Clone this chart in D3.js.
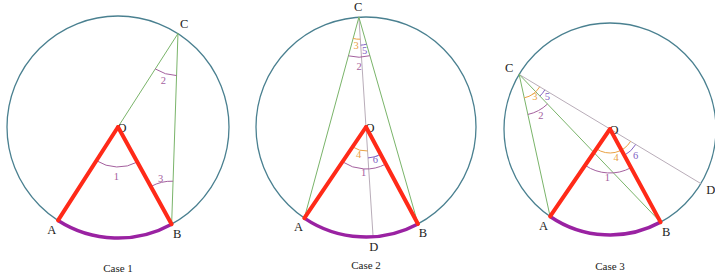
<!DOCTYPE html>
<html><head><meta charset="utf-8">
<script src="https://cdn.jsdelivr.net/npm/d3@7"></script>
<style>
html,body{margin:0;padding:0;background:#fff;}
svg{display:block;}
</style></head>
<body>
<svg id="chart" width="715" height="279"></svg>
<script>
// ---------- data ----------
const caseNames = ["Case 1", "Case 2", "Case 3"];
// positions of points on each circle, as angle in degrees (screen coords, 0 = right, 90 = down)
const angleA = [122.7, 124.1, 124.4];
const angleB = [61.1, 61.8, 61.5];
const angleC = [-57.3, -93.7, -149.0];
const hasD   = [false, true, true];
// angle marks: [vertex, ray1, ray2, label, colourKey]
const marks1 = [["O","A","B","1","pink"],["C","O","B","2","pink"],["B","O","C","3","pink"]];
const marks2 = [["C","A","O","3","orange"],["C","O","B","5","violet"],["C","A","B","2","pink"],
                ["O","A","D","4","orange"],["O","D","B","6","violet"],["O","A","B","1","pink"]];
const marks3 = [["C","A","O","3","orange"],["C","B","O","5","violet"],["C","A","B","2","pink"],
                ["O","A","D","4","orange"],["O","B","D","6","violet"],["O","A","B","1","pink"]];
const marks = [marks1, marks2, marks3];

// ---------- layout / style ----------
const FONT = "'Liberation Serif', 'DejaVu Serif', serif";
const panels = [{cx:118, cy:127, r:111, caseY:268},
                {cx:366, cy:127, r:110, caseY:265},
                {cx:610, cy:129, r:106, caseY:266}];
const colours = {circle:"#4a8090", green:"#7ab46a", grey:"#b9adb9", red:"#ff2a18",
                 arcAB:"#9a22a2", pink:"#a4609e", orange:"#e9a245", violet:"#8262c4"};
// radius and label distance for each mark, per case
const markStyle = [
  [[40,50],[42,49],[43,47]],
  [[22,28],[28,34],[40,49],[24,28],[31,34],[42,46]],
  [[24,27],[30,36],[41,46],[24,29],[30,37],[44,49]]
];
const labelPad = [1.105, 1.095, 1.11];

const svg = d3.select("#chart");
const rad = d => d * Math.PI / 180;

panels.forEach((p, i) => {
  const g = svg.append("g").attr("font-family", FONT);
  const sx = d3.scaleLinear().domain([-1, 1]).range([p.cx - p.r, p.cx + p.r]);
  const sy = d3.scaleLinear().domain([-1, 1]).range([p.cy - p.r, p.cy + p.r]);
  const onCircle = a => [sx(Math.cos(rad(a))), sy(Math.sin(rad(a)))];
  const pts = { O:[sx(0), sy(0)], A:onCircle(angleA[i]), B:onCircle(angleB[i]), C:onCircle(angleC[i]) };
  if (hasD[i]) pts.D = onCircle(angleC[i] + 180);
  const line = (a, b, col, w) => g.append("line")
    .attr("x1", pts[a][0]).attr("y1", pts[a][1]).attr("x2", pts[b][0]).attr("y2", pts[b][1])
    .attr("stroke", col).attr("stroke-width", w).attr("stroke-linecap", "round");

  // circle
  g.append("circle").attr("cx", sx(0)).attr("cy", sy(0)).attr("r", sx(1) - sx(0))
    .attr("fill", "none").attr("stroke", colours.circle).attr("stroke-width", 1.3);

  // construction lines
  if (hasD[i]) {
    line("C", "D", colours.grey, 1);
    line("C", "A", colours.green, 1);
    line("C", "B", colours.green, 1);
  } else {
    line("C", "O", colours.green, 1);
    line("C", "B", colours.green, 1);
  }

  // angle marks
  marks[i].forEach((m, k) => {
    const [v, q1, q2, lab, ck] = m;
    const [ar, ld] = markStyle[i][k];
    const P = pts[v];
    const a1 = Math.atan2(pts[q1][1] - P[1], pts[q1][0] - P[0]);
    const a2 = Math.atan2(pts[q2][1] - P[1], pts[q2][0] - P[0]);
    let d = a2 - a1;
    while (d > Math.PI) d -= 2 * Math.PI;
    while (d <= -Math.PI) d += 2 * Math.PI;
    const path = d3.path();
    path.moveTo(P[0] + ar * Math.cos(a1), P[1] + ar * Math.sin(a1));
    path.arc(P[0], P[1], ar, a1, a1 + d, d < 0);
    g.append("path").attr("d", path.toString()).attr("fill", "none")
      .attr("stroke", colours[ck]).attr("stroke-width", 1);
    const bis = a1 + d / 2;
    g.append("text").attr("x", P[0] + ld * Math.cos(bis)).attr("y", P[1] + ld * Math.sin(bis))
      .attr("text-anchor", "middle").attr("dominant-baseline", "central")
      .attr("font-size", 10.5).attr("fill", colours[ck]).text(lab);
  });

  // O label (partly under the red sides)
  g.append("text").attr("x", pts.O[0] - 0.5).attr("y", pts.O[1] + 5)
    .attr("font-size", 12.5).attr("fill", "#222").text("O");

  // highlighted arc AB
  const arcPath = d3.path();
  arcPath.moveTo(pts.A[0], pts.A[1]);
  arcPath.arc(sx(0), sy(0), sx(1) - sx(0), rad(angleA[i]), rad(angleB[i]), true);
  g.append("path").attr("d", arcPath.toString()).attr("fill", "none")
    .attr("stroke", colours.arcAB).attr("stroke-width", 3.5);

  // red radii
  line("O", "A", colours.red, 4);
  line("O", "B", colours.red, 4);

  // point labels, placed radially outside the circle
  const lbl = (name, a) => {
    const q = [sx(labelPad[i] * Math.cos(rad(a))), sy(labelPad[i] * Math.sin(rad(a)))];
    g.append("text").attr("x", q[0]).attr("y", q[1]).attr("text-anchor", "middle")
      .attr("dominant-baseline", "central").attr("font-size", 12.5).attr("fill", "#222").text(name);
  };
  lbl("A", angleA[i]); lbl("B", angleB[i]); lbl("C", angleC[i]);
  if (hasD[i]) lbl("D", angleC[i] + 180);

  g.append("text").attr("x", sx(0)).attr("y", p.caseY).attr("text-anchor", "middle")
    .attr("dominant-baseline", "central").attr("font-size", 11).attr("fill", "#222").text(caseNames[i]);
});
</script>
</body></html>
